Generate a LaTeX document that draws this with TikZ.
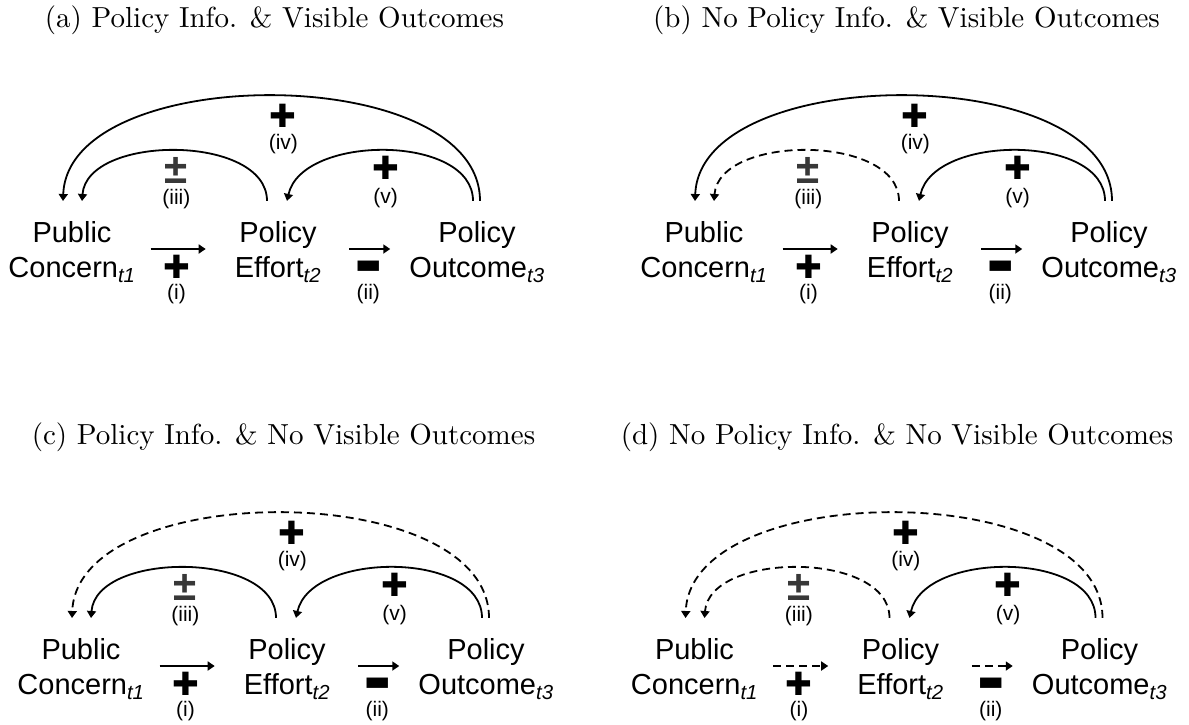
\documentclass[tikz,border=0pt]{standalone}
\usepackage{fontspec}
\usepackage{xcolor}
\usepackage{tikz}
\usetikzlibrary{arrows.meta,positioning}
\newfontfamily\arial{Liberation Sans}
\newfontfamily\signfont{DejaVu Sans}
\newfontfamily\capfont{lmroman10-regular}[Extension=.otf]
\definecolor{pmgray}{HTML}{383838}
\newcommand{\plussign}{{\signfont\fontsize{32}{32}\selectfont ✚}}
\newcommand{\minussign}{{\signfont\fontsize{28}{28}\selectfont ▬}}
\newcommand{\pmsign}{{\arial\bfseries\fontsize{42}{42}\selectfont\color{pmgray}±}}
\newcommand{\tsub}[1]{\textsubscript{\itshape #1}}

\begin{document}
\begin{tikzpicture}
  [
  x=1pt,y=-1pt,on grid,
  box/.style={font=\arial\fontsize{29}{35}\selectfont,align=center,inner xsep=6pt,inner ysep=4pt},
  caption/.style={font=\capfont\fontsize{29}{34}\selectfont,inner sep=0pt},
  sign/.style={inner sep=0pt},
  num/.style={font=\arial\fontsize{21}{22}\selectfont,inner sep=0pt},
  link/.style={-{Triangle[length=7pt,width=9pt]},line width=1.8pt},
  weak/.style={dash pattern=on 8pt off 5pt},
  firm/.style={solid}
  ]
  \useasboundingbox (0,0) rectangle (1189,724);
  \foreach \p/\px/\py/\ta/\tb/\tc/\txt in
    {a/72/252/firm/firm/firm/{Policy Info. \& Visible Outcomes},
     b/704/252/firm/weak/firm/{No Policy Info. \& Visible Outcomes},
     c/81/669/firm/firm/weak/{Policy Info. \& No Visible Outcomes},
     d/694.5/669/weak/weak/weak/{No Policy Info. \& No Visible Outcomes}}
  {
    \node[box] (con-\p) at (\px,\py) {Public\\Concern\tsub{t1}};
    \node[box] (eff-\p) [right=206pt of con-\p] {Policy\\Effort\tsub{t2}};
    \node[box] (out-\p) [right=199pt of eff-\p] {Policy\\Outcome\tsub{t3}};
    \node[caption] (cap-\p) [above=232pt of eff-\p,xshift=-3.5pt] {(\p) \txt};
    % forward paths
    \draw[link,\ta,shorten <=9pt,shorten >=23pt] ([yshift=3pt]con-\p.east) -- ([yshift=3pt]eff-\p.west)
      node[sign,pos=0.4,yshift=-18pt] (s1-\p) {\plussign};
    \node[num] (n1-\p) [below=27pt of s1-\p] {(i)};
    \draw[link,\ta,shorten <=22pt,shorten >=13pt] ([yshift=3pt]eff-\p.east) -- ([yshift=3pt]out-\p.west)
      node[sign,pos=0.54,yshift=-18pt] (s2-\p) {\minussign};
    \node[num] (n2-\p) [below=27pt of s2-\p] {(ii)};
    % feedback paths
    \draw[link,\tb] ([xshift=-11pt,yshift=16pt]eff-\p.north) .. controls +(0pt,67pt) and +(5pt,67pt) .. ([xshift=10pt,yshift=16pt]con-\p.north)
      node[sign,pos=0.5,yshift=-20pt] (s3-\p) {\pmsign};
    \node[num] (n3-\p) [below=28pt of s3-\p] {(iii)};
    \draw[link,\tc] ([xshift=3pt,yshift=16pt]out-\p.north) .. controls +(0pt,140pt) and +(5pt,140pt) .. ([xshift=-9pt,yshift=16pt]con-\p.north)
      node[sign,pos=0.5,xshift=10pt,yshift=-20pt] (s4-\p) {\plussign};
    \node[num] (n4-\p) [below=28pt of s4-\p] {(iv)};
    \draw[link] ([xshift=-4pt,yshift=16pt]out-\p.north) .. controls +(0pt,67pt) and +(15pt,67pt) .. ([xshift=9pt,yshift=16pt]eff-\p.north)
      node[sign,pos=0.5,yshift=-17pt] (s5-\p) {\plussign};
    \node[num] (n5-\p) [below=30pt of s5-\p] {(v)};
  }
\end{tikzpicture}
\end{document}
